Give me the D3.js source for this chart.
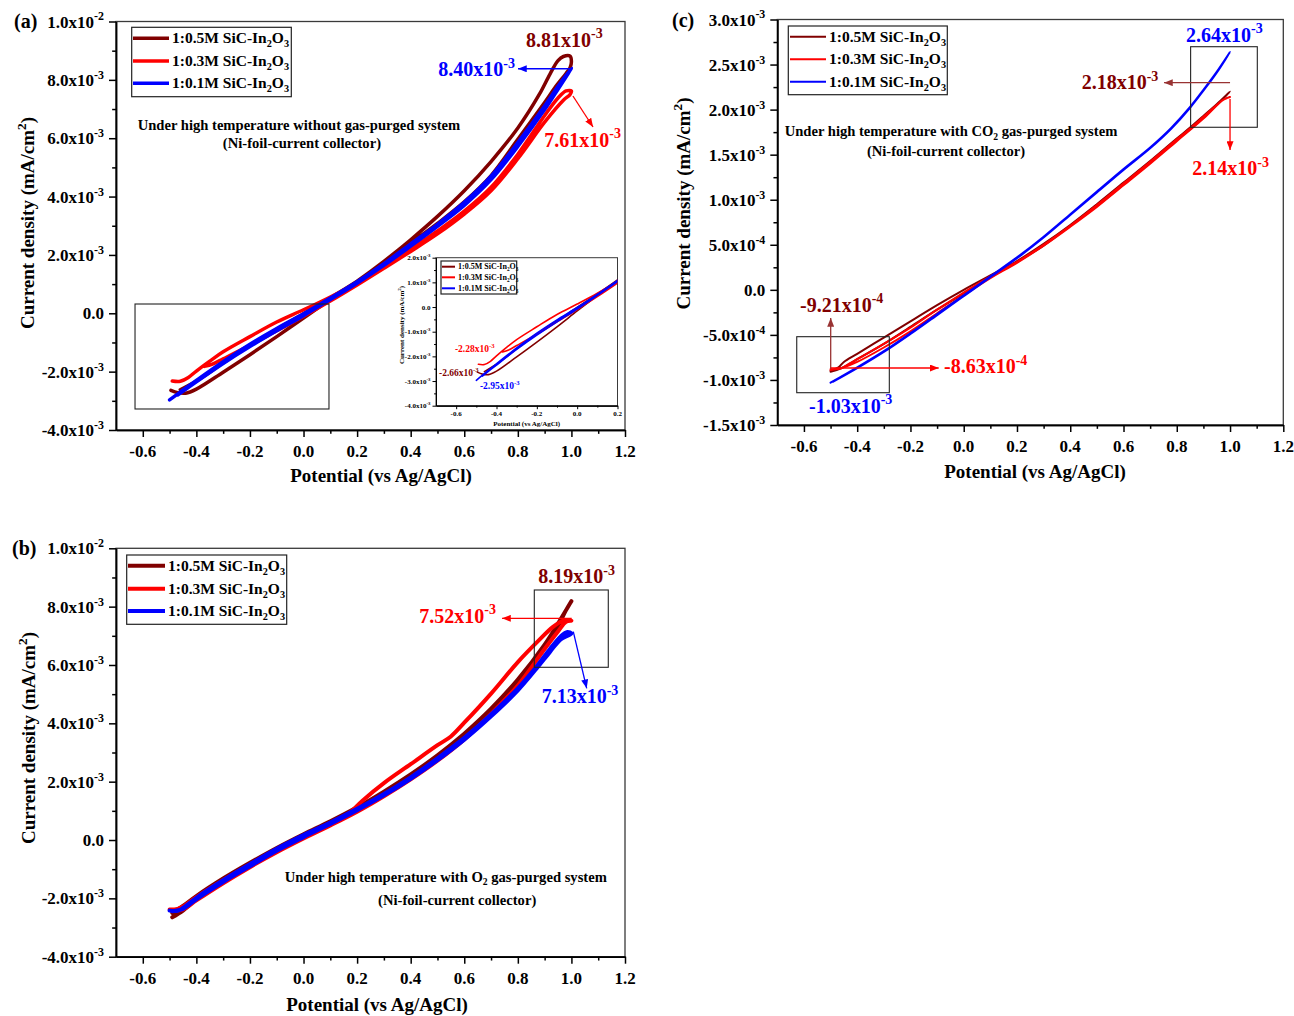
<!DOCTYPE html>
<html><head><meta charset="utf-8">
<script src="https://cdn.jsdelivr.net/npm/d3@7"></script>
<style>
body{margin:0;background:#fff}
svg{display:block}
text{font-family:"Liberation Serif","Times New Roman",serif;font-weight:bold}
</style>
</head><body>
<svg id="chart" width="1294" height="1016"></svg>
<script>
// ---------- DATA (current density in units of 1e-3 mA/cm2, potential in V vs Ag/AgCl) ----------
const potentialTicks = [-0.6,-0.4,-0.2,0.0,0.2,0.4,0.6,0.8,1.0,1.2];
const potentialTickLabels = ["-0.6","-0.4","-0.2","0.0","0.2","0.4","0.6","0.8","1.0","1.2"];
const potentialMinor = [-0.5,-0.3,-0.1,0.1,0.3,0.5,0.7,0.9,1.1];
const currentTicksAB = [-4,-2,0,2,4,6,8,10];
const currentTickLabelsAB = [["-4.0x10","-3"],["-2.0x10","-3"],["0.0",""],["2.0x10","-3"],["4.0x10","-3"],["6.0x10","-3"],["8.0x10","-3"],["1.0x10","-2"]];
const currentMinorAB = [-3,-1,1,3,5,7,9];
const currentTicksC = [-1.5,-1.0,-0.5,0,0.5,1.0,1.5,2.0,2.5,3.0];
const currentTickLabelsC = [["-1.5x10","-3"],["-1.0x10","-3"],["-5.0x10","-4"],["0.0",""],["5.0x10","-4"],["1.0x10","-3"],["1.5x10","-3"],["2.0x10","-3"],["2.5x10","-3"],["3.0x10","-3"]];
const currentMinorC = [-1.25,-0.75,-0.25,0.25,0.75,1.25,1.75,2.25,2.75];
const insetXTicks = [-0.6,-0.4,-0.2,0.0,0.2];
const insetXTickLabels = ["-0.6","-0.4","-0.2","0.0","0.2"];
const insetXMinor = [-0.5,-0.3,-0.1,0.1];
const insetYTicks = [-4,-3,-2,-1,0,1,2];
const insetYTickLabels = [["-4.0x10","-3"],["-3.0x10","-3"],["-2.0x10","-3"],["-1.0x10","-3"],["0.0",""],["1.0x10","-3"],["2.0x10","-3"]];
const insetYMinor = [-3.5,-2.5,-1.5,-0.5,0.5,1.5];

const seriesLabels = ["1:0.5M SiC-In","1:0.3M SiC-In","1:0.1M SiC-In"];
const seriesColors = ["#800000","#ff0000","#0000ff"];

// (a) without gas purge
const a05 = [[-0.495,-2.64],[-0.47,-2.72],[-0.44,-2.74],[-0.4,-2.6],[-0.3,-2.02],[-0.2,-1.42],[-0.1,-0.8],[0.0,-0.16],[0.1,0.47],[0.2,1.1],[0.3,1.78],[0.4,2.52],[0.5,3.32],[0.6,4.2],[0.7,5.2],[0.8,6.35],[0.88,7.5],[0.92,8.2],[0.95,8.66],[0.97,8.8],[0.995,8.81],[1.0,8.62],[0.995,8.42],[0.98,8.22],[0.94,7.75],[0.9,7.22],[0.8,5.96],[0.7,4.72],[0.6,3.82],[0.5,3.08],[0.4,2.4],[0.3,1.72],[0.2,1.1],[0.1,0.53],[0.0,-0.02],[-0.1,-0.55],[-0.2,-1.1],[-0.3,-1.7],[-0.4,-2.32],[-0.46,-2.62]];
const a03 = [[-0.49,-2.32],[-0.46,-2.33],[-0.43,-2.2],[-0.4,-1.98],[-0.35,-1.64],[-0.3,-1.32],[-0.2,-0.8],[-0.1,-0.3],[0.0,0.12],[0.1,0.56],[0.2,1.05],[0.3,1.6],[0.4,2.2],[0.5,2.82],[0.6,3.5],[0.7,4.32],[0.8,5.45],[0.9,6.78],[0.95,7.38],[0.98,7.62],[1.0,7.62],[0.995,7.5],[0.97,7.3],[0.9,6.55],[0.8,5.3],[0.7,4.2],[0.6,3.4],[0.5,2.72],[0.4,2.12],[0.3,1.54],[0.2,0.97],[0.1,0.42],[0.0,-0.1],[-0.1,-0.6],[-0.2,-1.1],[-0.3,-1.56],[-0.34,-1.74],[-0.37,-1.82]];
const a01 = [[-0.5,-2.97],[-0.45,-2.63],[-0.4,-2.3],[-0.3,-1.66],[-0.2,-1.06],[-0.1,-0.52],[0.0,-0.02],[0.1,0.52],[0.2,1.08],[0.3,1.7],[0.4,2.38],[0.5,3.05],[0.6,3.8],[0.7,4.7],[0.8,5.85],[0.9,7.1],[0.95,7.78],[1.0,8.4],[0.95,7.68],[0.9,6.98],[0.8,5.72],[0.7,4.58],[0.6,3.7],[0.5,2.98],[0.4,2.3],[0.3,1.64],[0.2,1.03],[0.1,0.47],[0.0,-0.08],[-0.1,-0.6],[-0.2,-1.14],[-0.3,-1.72],[-0.4,-2.35],[-0.47,-2.8]];

// (b) O2 gas purge
const b05 = [[-0.49,-2.65],[-0.45,-2.42],[-0.4,-2.02],[-0.3,-1.42],[-0.2,-0.86],[-0.1,-0.34],[0.0,0.14],[0.1,0.58],[0.2,1.05],[0.3,1.58],[0.4,2.18],[0.5,2.86],[0.6,3.64],[0.7,4.5],[0.8,5.5],[0.9,6.7],[0.95,7.42],[1.0,8.19],[0.98,7.88],[0.95,7.34],[0.9,6.62],[0.8,5.45],[0.7,4.47],[0.6,3.64],[0.5,2.9],[0.4,2.25],[0.3,1.66],[0.2,1.12],[0.1,0.64],[0.0,0.2],[-0.1,-0.27],[-0.2,-0.78],[-0.3,-1.32],[-0.4,-1.92],[-0.45,-2.26],[-0.49,-2.5]];
const b03 = [[-0.5,-2.38],[-0.47,-2.36],[-0.45,-2.28],[-0.4,-1.96],[-0.3,-1.38],[-0.2,-0.84],[-0.1,-0.33],[0.0,0.13],[0.1,0.56],[0.17,0.92],[0.22,1.35],[0.3,1.95],[0.4,2.6],[0.5,3.25],[0.55,3.55],[0.6,4.02],[0.7,5.02],[0.8,6.1],[0.88,6.86],[0.93,7.3],[0.97,7.52],[1.0,7.52],[0.98,7.48],[0.95,7.15],[0.9,6.55],[0.8,5.3],[0.7,4.32],[0.6,3.45],[0.5,2.72],[0.4,2.08],[0.3,1.5],[0.2,0.97],[0.1,0.5],[0.0,0.05],[-0.1,-0.42],[-0.2,-0.93],[-0.3,-1.48],[-0.4,-2.07],[-0.45,-2.38],[-0.48,-2.42]];
const b01 = [[-0.5,-2.42],[-0.47,-2.43],[-0.45,-2.33],[-0.4,-1.98],[-0.3,-1.38],[-0.2,-0.83],[-0.1,-0.3],[0.0,0.17],[0.1,0.6],[0.2,1.07],[0.3,1.58],[0.4,2.15],[0.5,2.8],[0.6,3.5],[0.7,4.3],[0.8,5.2],[0.87,5.95],[0.92,6.55],[0.96,6.98],[0.985,7.13],[1.0,7.08],[0.99,7.02],[0.96,6.88],[0.92,6.45],[0.87,5.88],[0.8,5.13],[0.7,4.24],[0.6,3.44],[0.5,2.74],[0.4,2.1],[0.3,1.53],[0.2,1.02],[0.1,0.55],[0.0,0.1],[-0.1,-0.37],[-0.2,-0.9],[-0.3,-1.44],[-0.4,-2.03],[-0.45,-2.36],[-0.49,-2.44]];

// (c) CO2 gas purge
const c05 = [[-0.5,-0.9],[-0.47,-0.86],[-0.45,-0.8],[-0.4,-0.71],[-0.3,-0.53],[-0.2,-0.35],[-0.1,-0.17],[0.0,0.0],[0.1,0.16],[0.2,0.32],[0.3,0.51],[0.4,0.72],[0.5,0.95],[0.6,1.19],[0.7,1.43],[0.8,1.68],[0.85,1.8],[0.9,1.93],[0.95,2.06],[1.0,2.2],[0.98,2.14],[0.9,1.91],[0.8,1.66],[0.7,1.41],[0.6,1.17],[0.5,0.93],[0.4,0.71],[0.3,0.49],[0.2,0.31],[0.1,0.14],[0.0,-0.04],[-0.1,-0.22],[-0.2,-0.41],[-0.3,-0.6],[-0.4,-0.77],[-0.46,-0.87],[-0.5,-0.91]];
const c03 = [[-0.5,-0.88],[-0.46,-0.87],[-0.43,-0.82],[-0.4,-0.77],[-0.3,-0.6],[-0.2,-0.42],[-0.1,-0.22],[0.0,-0.03],[0.1,0.15],[0.2,0.31],[0.3,0.5],[0.4,0.71],[0.5,0.94],[0.6,1.18],[0.7,1.42],[0.8,1.67],[0.85,1.79],[0.9,1.92],[0.95,2.05],[0.98,2.12],[1.0,2.14],[0.99,2.13],[0.97,2.1],[0.9,1.9],[0.8,1.65],[0.7,1.4],[0.6,1.16],[0.5,0.92],[0.4,0.7],[0.3,0.49],[0.2,0.3],[0.1,0.13],[0.0,-0.06],[-0.1,-0.26],[-0.2,-0.46],[-0.3,-0.64],[-0.4,-0.8],[-0.45,-0.86],[-0.5,-0.89]];
const c01 = [[-0.5,-1.03],[-0.4,-0.86],[-0.3,-0.68],[-0.2,-0.48],[-0.1,-0.27],[0.0,-0.06],[0.1,0.15],[0.2,0.36],[0.3,0.59],[0.4,0.84],[0.5,1.09],[0.6,1.34],[0.7,1.58],[0.78,1.8],[0.85,2.03],[0.9,2.22],[0.95,2.42],[1.0,2.64],[0.95,2.41],[0.9,2.21],[0.85,2.02],[0.78,1.79],[0.7,1.57],[0.6,1.33],[0.5,1.08],[0.4,0.83],[0.3,0.58],[0.2,0.35],[0.1,0.14],[0.0,-0.07],[-0.1,-0.28],[-0.2,-0.49],[-0.3,-0.69],[-0.4,-0.87],[-0.49,-1.02]];

// ---------- DRAWING ----------
const svg = d3.select("#chart");
const defs = svg.append("defs");
function marker(id, color){
  defs.append("marker").attr("id",id).attr("viewBox","0 0 10 8").attr("refX",10).attr("refY",4)
    .attr("markerWidth",9).attr("markerHeight",7).attr("markerUnits","userSpaceOnUse").attr("orient","auto")
    .append("path").attr("d","M0,0L10,4L0,8Z").attr("fill",color);
}
marker("mBlue","#0000ff"); marker("mRed","#ff0000"); marker("mDk","#993333");

function rich(t, parts, fs){
  let shift = 0;
  parts.forEach(([s,k])=>{
    if(s==="") return;
    const target = k==="sup" ? -0.42*fs : (k==="sub" ? 0.25*fs : 0);
    t.append("tspan").attr("dy", target-shift).attr("font-size", k==="sup" ? fs*0.7 : (k ? fs*0.66 : fs)).text(s);
    shift = target;
  });
}
const legendParts = name => [[name,null],["2","sub"],["O",null],["3","sub"]];

function panel(c){
  const x = d3.scaleLinear().domain(c.xd).range([c.L,c.R]);
  const y = d3.scaleLinear().domain(c.yd).range([c.B,c.T]);
  const g = svg.append("g");
  g.append("rect").attr("x",c.L).attr("y",c.T).attr("width",c.R-c.L).attr("height",c.B-c.T)
    .attr("fill", c.bg ? "#fff" : "none").attr("stroke","#3a3a3a").attr("stroke-width",c.fw);
  const style = sel => { sel.selectAll("path,line").attr("stroke","#000").attr("stroke-width",c.aw); };
  g.append("g").attr("transform",`translate(0,${c.B})`)
    .call(d3.axisBottom(x).tickValues(c.xt).tickSize(c.tk).tickSizeOuter(0).tickFormat("")).call(style);
  g.append("g").attr("transform",`translate(0,${c.B})`)
    .call(d3.axisBottom(x).tickValues(c.xm).tickSize(c.tk*0.55).tickSizeOuter(0).tickFormat("")).call(style);
  g.append("g").attr("transform",`translate(${c.L},0)`)
    .call(d3.axisLeft(y).tickValues(c.yt).tickSize(c.tk).tickSizeOuter(0).tickFormat("")).call(style);
  g.append("g").attr("transform",`translate(${c.L},0)`)
    .call(d3.axisLeft(y).tickValues(c.ym).tickSize(c.tk*0.55).tickSizeOuter(0).tickFormat("")).call(style);
  c.xt.forEach((v,i)=>{
    g.append("text").attr("x",x(v)).attr("y",c.B+c.xlo).attr("text-anchor","middle").attr("font-size",c.fs).text(c.xtl[i]);
  });
  c.yt.forEach((v,i)=>{
    const t = g.append("text").attr("x",c.L-c.ylo).attr("y",y(v)+c.fs*0.36).attr("text-anchor","end").attr("font-size",c.fs);
    rich(t,[[c.ytl[i][0],null],[c.ytl[i][1],"sup"]],c.fs);
  });
  g.append("text").attr("x",c.xtx).attr("y",c.xty).attr("text-anchor","middle").attr("font-size",c.tfs).text("Potential (vs Ag/AgCl)");
  const yt = g.append("text").attr("transform",`translate(${c.ytx},${c.yty}) rotate(-90)`).attr("text-anchor","middle").attr("font-size",c.tfs);
  rich(yt,[["Current density (mA/cm",null],["2","sup"],[")",null]],c.tfs);
  return {x,y,g};
}

const line = (x,y)=>d3.line().x(d=>x(d[0])).y(d=>y(d[1])).curve(d3.curveCatmullRom.alpha(0.5));
function curves(p, data, lw, clipId){
  const cg = p.g.append("g");
  if(clipId) cg.attr("clip-path",`url(#${clipId})`);
  data.forEach((d,i)=>{
    cg.append("path").datum(d).attr("d",line(p.x,p.y)).attr("fill","none").attr("stroke",seriesColors[i])
      .attr("stroke-width",lw).attr("stroke-linejoin","round").attr("stroke-linecap","round");
  });
}
function legend(g, L, T, W, H, rows, x1, x2, lw, fs){
  g.append("rect").attr("x",L).attr("y",T).attr("width",W).attr("height",H).attr("fill","#fff").attr("stroke","#222").attr("stroke-width",1.2);
  rows.forEach((ry,i)=>{
    g.append("line").attr("x1",x1).attr("x2",x2).attr("y1",ry).attr("y2",ry).attr("stroke",seriesColors[i]).attr("stroke-width",lw);
    const t = g.append("text").attr("x",x2+3).attr("y",ry+fs*0.33).attr("font-size",fs);
    rich(t, legendParts(seriesLabels[i]), fs);
  });
}
function label(p, E, J, parts, color, fs, anchor){
  const t = p.g.append("text").attr("x",p.x(E)).attr("y",p.y(J)).attr("fill",color).attr("font-size",fs).attr("text-anchor",anchor||"start");
  rich(t, parts, fs);
}
function arrow(p, E1, J1, E2, J2, color, mk){
  p.g.append("line").attr("x1",p.x(E1)).attr("y1",p.y(J1)).attr("x2",p.x(E2)).attr("y2",p.y(J2))
    .attr("stroke",color).attr("stroke-width",1.3).attr("marker-end",`url(#${mk})`);
}
function box(p, E1, J1, E2, J2){
  p.g.append("rect").attr("x",p.x(E1)).attr("y",p.y(J1)).attr("width",p.x(E2)-p.x(E1)).attr("height",p.y(J2)-p.y(J1))
    .attr("fill","none").attr("stroke","#222").attr("stroke-width",1.1);
}
function panelLabel(x,y,s){ svg.append("text").attr("x",x).attr("y",y).attr("font-size",20).text(s); }

const common = {xd:[-0.7,1.2], xt:potentialTicks, xtl:potentialTickLabels, xm:potentialMinor, tk:7, fw:1.3, aw:1.5, fs:17, tfs:19, xlo:27, ylo:12};

// ----- Panel (a)
const pA = panel(Object.assign({}, common, {L:116,R:625,T:21.5,B:430, yd:[-4,10], yt:currentTicksAB, ytl:currentTickLabelsAB, ym:currentMinorAB,
  xtx:381, xty:482, ytx:34, yty:223}));
curves(pA,[a05,a03,a01],3.5);
box(pA,-0.629,0.318,0.095,-3.28);
legend(pA.g,131.7,27.3,159.6,69.4,[38.3,61,83.3],133,169,3.5,15.5);
{ const t=pA.g.append("text").attr("x",pA.x(-0.017)).attr("y",pA.y(6.281)).attr("text-anchor","middle").attr("font-size",14.6);
  rich(t,[["Under high temperature without gas-purged system",null]],14.6);
  pA.g.append("text").attr("x",pA.x(-0.006)).attr("y",pA.y(5.664)).attr("text-anchor","middle").attr("font-size",14.6).text("(Ni-foil-current collector)"); }
label(pA,0.8305,9.136,[["8.81x10",null],["-3","sup"]],"#800000",20);
label(pA,0.503,8.13,[["8.40x10",null],["-3","sup"]],"#0000ff",20);
label(pA,0.899,5.71,[["7.61x10",null],["-3","sup"]],"#ff0000",20);
arrow(pA,1.002,8.38,0.8006,8.38,"#0000ff","mBlue");
arrow(pA,1.0057,7.447,1.0806,6.384,"#ff0000","mRed");

// ----- Inset of (a)
defs.append("clipPath").attr("id","insetClip").append("rect").attr("x",436).attr("y",257.7).attr("width",181.5).attr("height",148);
const pI = panel({xd:[-0.7,0.2], xt:insetXTicks, xtl:insetXTickLabels, xm:insetXMinor, tk:3.5, fw:1.0, aw:1.0, fs:7, tfs:7, xlo:10.5, ylo:5.5,
  L:436,R:617.5,T:257.7,B:405.7, yd:[-4,2], yt:insetYTicks, ytl:insetYTickLabels, ym:insetYMinor, bg:true,
  xtx:526.7, xty:425.5, ytx:404, yty:325});
curves(pI,[a05,a03,a01],1.6,"insetClip");
legend(pI.g,441,261,75.7,33,[266.7,277.3,288.3],442,455,2,8);
label(pI,-0.606,-1.811,[["-2.28x10",null],["-3","sup"]],"#ff0000",9.5);
label(pI,-0.685,-2.796,[["-2.66x10",null],["-3","sup"]],"#800000",9.5);
label(pI,-0.482,-3.311,[["-2.95x10",null],["-3","sup"]],"#0000ff",9.5);

// ----- Panel (b)
const pB = panel(Object.assign({}, common, {L:116,R:625,T:548.3,B:956.7, yd:[-4,10], yt:currentTicksAB, ytl:currentTickLabelsAB, ym:currentMinorAB,
  xtx:377, xty:1011, ytx:34.5, yty:738}));
curves(pB,[b05,b03,b01],4);
box(pB,0.8614,8.571,1.1376,5.921);
legend(pB.g,126.7,555,160,69.3,[565.7,588.7,611],128,165,4,15.5);
{ const t=pB.g.append("text").attr("x",pB.x(0.531)).attr("y",pB.y(-1.429)).attr("text-anchor","middle").attr("font-size",14.6);
  rich(t,[["Under high temperature with O",null],["2","sub"],[" gas-purged system",null]],14.6);
  pB.g.append("text").attr("x",pB.x(0.5736)).attr("y",pB.y(-2.228)).attr("text-anchor","middle").attr("font-size",14.6).text("(Ni-foil-current collector)"); }
label(pB,0.8764,8.80,[["8.19x10",null],["-3","sup"]],"#800000",20);
label(pB,0.432,7.45,[["7.52x10",null],["-3","sup"]],"#ff0000",20);
label(pB,0.889,4.687,[["7.13x10",null],["-3","sup"]],"#0000ff",20);
arrow(pB,1.001,7.60,0.741,7.60,"#ff0000","mRed");
arrow(pB,1.007,7.141,1.057,5.201,"#0000ff","mBlue");

// ----- Panel (c)
const pC = panel(Object.assign({}, common, {L:777.3,R:1283.3,T:19.5,B:425, yd:[-1.5,3.0], yt:currentTicksC, ytl:currentTickLabelsC, ym:currentMinorC,
  xtx:1035, xty:478, ytx:689.5, yty:203.5}));
curves(pC,[c05,c03,c01],2);
box(pC,0.852,2.698,1.1024,1.804);
box(pC,-0.627,-0.52,-0.2794,-1.1416);
legend(pC.g,788.3,26,159,68.7,[36.7,59.3,81.7],790,826,2,15.5);
{ const t=pC.g.append("text").attr("x",pC.x(-0.0478)).attr("y",pC.y(1.707)).attr("text-anchor","middle").attr("font-size",14.6);
  rich(t,[["Under high temperature with CO",null],["2","sub"],[" gas-purged system",null]],14.6);
  pC.g.append("text").attr("x",pC.x(-0.0666)).attr("y",pC.y(1.485)).attr("text-anchor","middle").attr("font-size",14.6).text("(Ni-foil-current collector)"); }
label(pC,0.8346,2.754,[["2.64x10",null],["-3","sup"]],"#0000ff",20);
label(pC,0.443,2.225,[["2.18x10",null],["-3","sup"]],"#800000",20);
label(pC,0.858,1.274,[["2.14x10",null],["-3","sup"]],"#ff0000",20);
label(pC,-0.6148,-0.2427,[["-9.21x10",null],["-4","sup"]],"#800000",20);
label(pC,-0.074,-0.926,[["-8.63x10",null],["-4","sup"]],"#ff0000",20);
label(pC,-0.581,-1.3635,[["-1.03x10",null],["-3","sup"]],"#0000ff",20);
arrow(pC,1.0,2.299,0.752,2.299,"#993333","mDk");
arrow(pC,1.0,2.118,1.0,1.552,"#ff0000","mRed");
arrow(pC,-0.4995,-0.879,-0.4995,-0.3126,"#993333","mDk");
arrow(pC,-0.4995,-0.8675,-0.094,-0.8675,"#ff0000","mRed");

panelLabel(14,28,"(a)");
panelLabel(12,555,"(b)");
panelLabel(672,27,"(c)");
</script>
</body></html>
